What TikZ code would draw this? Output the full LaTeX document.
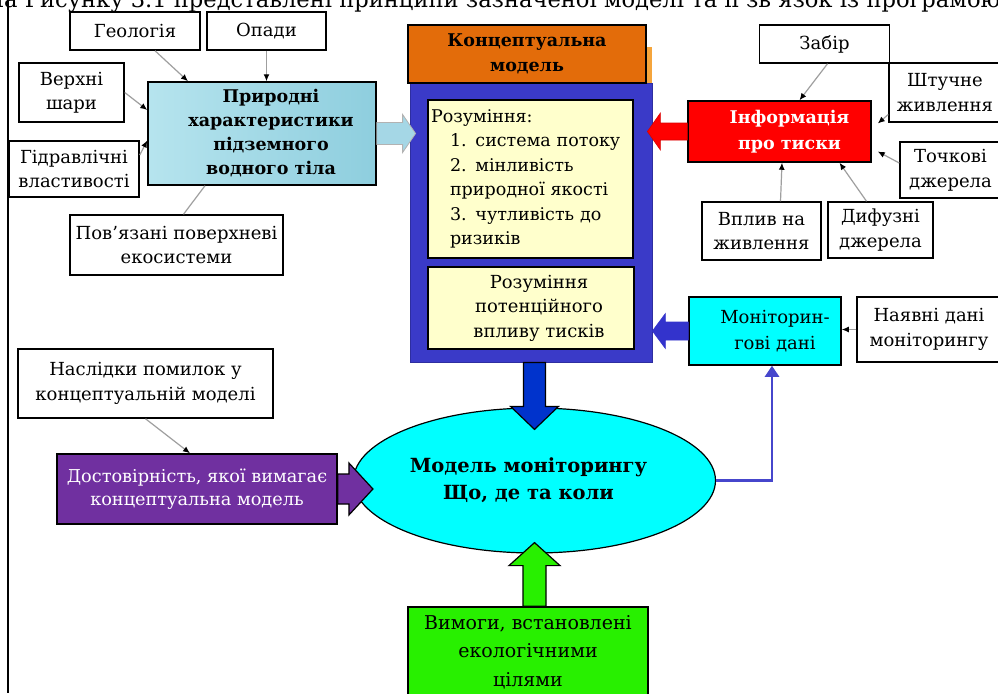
\documentclass[tikz,border=0pt]{standalone}
\usepackage{fontspec}
\setmainfont{DejaVu Serif}
\usetikzlibrary{arrows.meta,calc,shapes.geometric}

\definecolor{aquaL}{RGB}{182,228,238}
\definecolor{aquaD}{RGB}{142,206,222}
\definecolor{arrAqua}{RGB}{165,215,230}
\definecolor{orangeC}{RGB}{227,108,10}
\definecolor{orangeL}{RGB}{245,165,60}
\definecolor{blueBox}{RGB}{58,58,200}
\definecolor{yellowC}{RGB}{255,255,204}
\definecolor{blueArr}{RGB}{51,51,204}
\definecolor{darkBlue}{RGB}{0,51,204}
\definecolor{purpleC}{RGB}{112,48,160}
\definecolor{greenC}{RGB}{40,240,0}
\definecolor{cyanC}{RGB}{0,255,255}
\definecolor{lineBlue}{RGB}{70,70,204}

\tikzset{
  box/.style={draw, line width=1.5pt, fill=white, align=center, inner sep=2pt,
    font=\fontsize{18}{24.5}\selectfont},
  boldbox/.style={box, font=\fontsize{17.5}{25}\selectfont\bfseries},
  feed/.style={draw=gray!75, line width=1.2pt, -{Latex[black,length=7pt,width=6pt]}},
  fat/.style n args={3}{to path={
    let \p1=(\tikztostart), \p2=(\tikztotarget), \p3=($(\p2)!#3!(\p1)$) in
    ($(\p1)!#1!90:(\p2)$) -- ($(\p3)!#1!90:(\p2)$) -- ($(\p3)!#2!90:(\p2)$)
    -- (\p2) -- ($(\p3)!#2!-90:(\p2)$) -- ($(\p3)!#1!-90:(\p2)$)
    -- ($(\p1)!#1!-90:(\p2)$) -- cycle}}
}

\begin{document}
\begin{tikzpicture}[x=1pt, y=-1pt]
    \fill[white] (0,0) rectangle (998,693);
    \useasboundingbox (0,0) rectangle (998,693);

    \node[anchor=base west, font=\fontsize{22.6}{26}\selectfont] (caption) at (-19,8) {На Рисунку 3.1 представлені принципи зазначеної моделі та її зв’язок із програмою};
    \draw[line width=1.5pt] (8,0) -- (8,693);

    % left side
    \node[box, minimum width=130pt, minimum height=38pt] (geo) at (135,31) {Геологія};
    \node[box, minimum width=119pt, minimum height=38pt] (opady) at (266.5,31) {Опади};
    \node[box, minimum width=105pt, minimum height=59pt] (verkhni) at (71.5,92.5) {Верхні\\шари};
    \node[box, minimum width=130pt, minimum height=56pt] (gidr) at (74,169) {Гідравлічні\\властивості};
    \node[box, minimum width=213pt, minimum height=60pt] (povyaz) at (176.5,245) {Пов’язані поверхневі\\екосистеми};
    \node[boldbox, left color=aquaL, right color=aquaD, minimum width=228pt, minimum height=103pt, font=\fontsize{17.5}{24}\selectfont\bfseries] (pryrodni) at (262,133.5)
        {\hspace*{18pt}\begin{tabular}{@{}c@{}}Природні\\характеристики\\підземного\\водного тіла\end{tabular}};

    % centre
    \fill[orangeL] (412,47) rectangle (652,83);
    \node[draw=blueBox!80!black, line width=0.8pt, fill=blueBox, minimum width=242pt, minimum height=279pt] (cmodel) at (531,222.5) {};
    \node[boldbox, fill=orangeC, minimum width=238pt, minimum height=58pt] (konc) at (527,54) {Концептуальна\\модель};
    \node[box, fill=yellowC, text width=199pt, align=left, inner sep=3pt, minimum height=158pt, font=\fontsize{17.5}{24.5}\selectfont] (rozum1) at (530.5,179)
        {Розуміння:\\\hspace*{19pt}1. система потоку\\\hspace*{19pt}2. мінливість\\\hspace*{19pt}природної якості\\\hspace*{19pt}3. чутливість до\\\hspace*{19pt}ризиків};
    \node[box, fill=yellowC, minimum width=206pt, minimum height=82pt] (rozum2) at (531,308)
        {\hspace*{16pt}\begin{tabular}{@{}c@{}}Розуміння\\потенційного\\впливу тисків\end{tabular}};

    % right side
    \node[boldbox, fill=red, text=white, minimum width=183pt, minimum height=61pt, font=\fontsize{17.5}{26}\selectfont\bfseries] (info) at (779.5,131.5)
        {\hspace*{20pt}\begin{tabular}{@{}c@{}}Інформація\\про тиски\end{tabular}};
    \node[box, minimum width=130pt, minimum height=38pt] (zabir) at (824.5,44) {Забір};
    \node[box, minimum width=112pt, minimum height=59pt] (shtuchne) at (945,92.5) {Штучне\\живлення};
    \node[box, minimum width=101pt, minimum height=56pt] (tochkovi) at (950.5,170) {Точкові\\джерела};
    \node[box, minimum width=119pt, minimum height=58pt] (vplyv) at (761.5,231) {Вплив на\\живлення};
    \node[box, minimum width=105pt, minimum height=56pt] (dyfuzni) at (880.5,230) {Дифузні\\джерела};
    \node[box, fill=cyanC, minimum width=152pt, minimum height=68pt, font=\fontsize{18}{26}\selectfont] (monit) at (765,331)
        {\hspace*{20pt}\begin{tabular}{@{}c@{}}Моніторин-\\гові дані\end{tabular}};
    \node[box, minimum width=144pt, minimum height=65pt] (nayavni) at (929,329.5) {Наявні дані\\моніторингу};

    % bottom
    \node[ellipse, draw, line width=1.2pt, fill=cyanC, minimum width=309pt, minimum height=145pt, font=\fontsize{19.5}{27}\selectfont\bfseries] (mm) at (534.5,480.5)
        {\begin{tabular}{@{}c@{}}Модель моніторингу\\Що, де та коли\end{tabular}\hspace*{12pt}};
    \node[box, minimum width=255pt, minimum height=69pt] (naslidky) at (145.5,383.5) {Наслідки помилок у\\концептуальній моделі};
    \node[box, fill=purpleC, text=white, minimum width=280pt, minimum height=70pt, font=\fontsize{17.7}{23.5}\selectfont] (dostov) at (197,489) {Достовірність, якої вимагає\\концептуальна модель};
    \node[box, fill=greenC, minimum width=240pt, minimum height=90pt, font=\fontsize{19}{28.5}\selectfont] (vymogy) at (528,652) {Вимоги, встановлені\\екологічними\\цілями};

    % thin feeders
    \draw[feed] ([xshift=20pt]geo.south) -- ([xshift=-74pt]pryrodni.north);
    \draw[feed] (opady.south) -- (opady.south |- pryrodni.north);
    \draw[feed] (verkhni.east) -- ([yshift=23.5pt]pryrodni.west);
    \draw[feed] ([yshift=14pt]gidr.east) -- ([yshift=-7pt]pryrodni.west);
    \draw[draw=gray!75, line width=1.2pt] ([xshift=7pt]povyaz.north) -- ([xshift=-57pt]pryrodni.south);
    \draw[feed] ([xshift=3pt]zabir.south) -- ([xshift=20pt]info.north);
    \draw[feed] ([yshift=-22pt]shtuchne.west) -- ([xshift=6pt,yshift=8pt]info.east);
    \draw[feed] ([yshift=7pt]tochkovi.west) -- ([xshift=6pt,yshift=-20pt]info.east);
    \draw[feed] ([xshift=19pt]vplyv.north) -- ([xshift=2.5pt]info.south);
    \draw[feed] ([xshift=-14pt]dyfuzni.north) -- ([xshift=60pt]info.south);
    \draw[feed] (nayavni.west) -- (monit.east |- nayavni.west);
    \draw[feed] (naslidky.south) -- ([xshift=-7pt]dostov.north);

    % fat arrows
    \coordinate (aquatip) at ($(cmodel.west |- pryrodni.east)+(6,0)$);
    \coordinate (redtip) at ($(cmodel.east |- info.west)+(-5,0)$);
    \coordinate (monittip) at (cmodel.east |- monit.west);
    \coordinate (downtip) at ($(mm.north)+(0,22)$);
    \coordinate (purpletip) at ($(mm.west |- dostov.east)+(20,0)$);
    \coordinate (greentip) at ($(mm.south)+(0,-11)$);
    \draw[fat={11pt}{19pt}{13pt}, fill=arrAqua, draw=gray!60, line width=0.8pt] (pryrodni.east) to (aquatip);
    \draw[fat={8.5pt}{18.5pt}{13pt}, fill=red, draw=red!85!black, line width=0.6pt] (info.west) to (redtip);
    \draw[fat={9pt}{17.5pt}{13pt}, fill=blueArr, draw=blueArr, line width=0.6pt] (monit.west) to (monittip);
    \draw[fat={11pt}{24pt}{23pt}, fill=darkBlue, draw=black, line width=1.2pt] (mm.north |- cmodel.south) to (downtip);
    \draw[fat={15pt}{26pt}{24pt}, fill=purpleC, draw=black, line width=1.2pt] (dostov.east) to (purpletip);
    \draw[fat={11.5pt}{25.5pt}{23pt}, fill=greenC, draw=black, line width=1.2pt] (mm.south |- vymogy.north) to (greentip);

    % link back to monitoring data
    \draw[lineBlue, line width=2.5pt, -{Triangle[length=11pt,width=14pt]}] (mm.east) -| ($(monit.south)+(7,0)$);
\end{tikzpicture}
\end{document}
